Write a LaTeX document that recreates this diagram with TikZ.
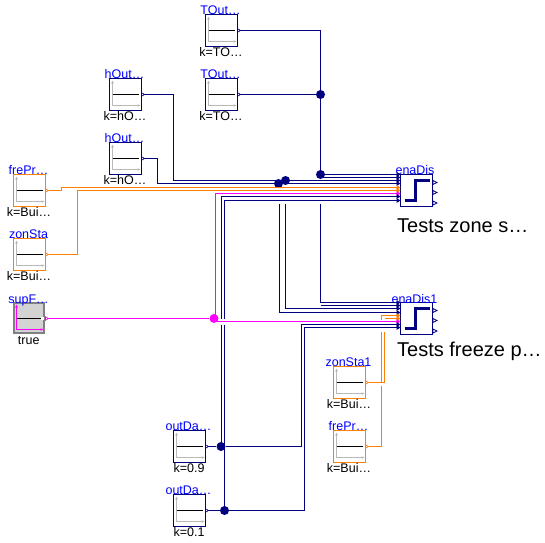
\documentclass[tikz,border=0pt]{standalone}
\usepackage{fontspec}
\setmainfont{Liberation Sans}
\usetikzlibrary{positioning}
\definecolor{conNavy}{RGB}{0,0,128}
\definecolor{conOrange}{RGB}{255,128,0}
\definecolor{conPink}{RGB}{255,0,255}
\definecolor{axisGrey}{RGB}{185,185,185}
\definecolor{supGrey}{RGB}{211,211,211}
\tikzstyle{srcbox}=[rectangle,draw,fill=white,line width=1pt,inner sep=0pt,outer sep=0pt,minimum size=32pt]
\tikzstyle{namelabel}=[inner sep=0pt,text=blue,font=\fontsize{12.5}{13}\selectfont,text height=9pt,text depth=1pt]
\tikzstyle{paramlabel}=[inner sep=0pt,font=\fontsize{12.5}{13}\selectfont,text height=9pt,text depth=1pt]
\tikzstyle{testlabel}=[inner sep=0pt,anchor=west,font=\fontsize{20}{22}\selectfont]
\tikzstyle{junction}=[circle,inner sep=0pt,minimum size=9pt]
\tikzstyle{con}=[line width=1pt]
% source block: name, x, y, colour, top text, bottom text
\newcommand{\srcblock}[6]{
\node[srcbox,draw=#4] (#1) at (#2,#3) {};
\draw[axisGrey,line width=0.8pt] (#2-13,#3-13) -- (#2-13,#3+11) -- (#2+13,#3+11);
\fill[axisGrey] (#2-14.3,#3-11) -- (#2-13,#3-14) -- (#2-11.7,#3-11) -- cycle;
\fill[axisGrey] (#2+12,#3+9.7) -- (#2+15,#3+11) -- (#2+12,#3+12.3) -- cycle;
\draw[black,line width=1pt] (#2-13,#3) -- (#2+13,#3);
\draw[#4,fill=white,line width=0.7pt] (#2+16,#3-1.8) -- (#2+19,#3) -- (#2+16,#3+1.8) -- cycle;
\coordinate (#1-out) at (#2+19,#3);
\node[namelabel] (#1-name) at (#2-1,#3-20.5) {#5};
\node[paramlabel] (#1-par) at (#2-.5,#3+22) {#6};
}
\begin{document}
\begin{tikzpicture}[x=1pt,y=-1pt,shift={(0.5,0.5)}]
\useasboundingbox (-0.5,-0.5) rectangle (544.5,541.5);
\srcblock{TOutA}{221}{30}{conNavy}{TOut…}{k=TO…}
\srcblock{TOutB}{221}{94}{conNavy}{TOut…}{k=TO…}
\srcblock{hOutA}{125}{94}{conNavy}{hOut…}{k=hO…}
\srcblock{hOutB}{125}{158}{conNavy}{hOut…}{k=hO…}
\srcblock{frePrA}{29}{190}{conOrange}{frePr…}{k=Bui…}
\srcblock{zonStaA}{29}{254}{conOrange}{zonSta}{k=Bui…}
\srcblock{outDaA}{189}{446}{conNavy}{outDa…}{k=0.9}
\srcblock{outDaB}{189}{510}{conNavy}{outDa…}{k=0.1}
\srcblock{zonStaB}{349}{382}{conOrange}{zonSta1}{k=Bui…}
\srcblock{frePrB}{349}{446}{conOrange}{frePr…}{k=Bui…}
\node[srcbox,draw=gray,line width=1.6pt,fill=supGrey,minimum size=30pt] (supF) at (28.5,317.5) {};
\draw[conPink,line width=1pt] (16,305) -- (16,329) -- (42,329);
\fill[conPink] (14.7,307) -- (16,304) -- (17.3,307) -- cycle;
\fill[conPink] (40,327.7) -- (43,329) -- (40,330.3) -- cycle;
\draw[black,line width=1pt] (16,318) -- (40,318);
\fill[white] (40,316.5) rectangle (43,319.5);
\draw[conPink,fill=white,line width=0.7pt] (45,316.2) -- (48,318) -- (45,319.8) -- cycle;
\coordinate (supF-out) at (48,318);
\node[namelabel] (supF-name) at (28,298.5) {supF…};
\node[paramlabel] (supF-par) at (28.2,339.5) {true};
\node[srcbox,draw=conNavy] (enaDis) at (416,190) {};
\node[srcbox,draw=conNavy] (enaDisOne) at (416,318) {};
\foreach \blk/\yy in {enaDis/190,enaDisOne/318}{
\draw[conNavy,line width=2.2pt] (404,\yy+10) -- (415,\yy+10) -- (415,\yy-10) -- (429,\yy-10);
\foreach \off in {-8,2,12.5}
\draw[conNavy,fill=white,line width=0.7pt] (432.5,\yy+\off-2) -- (436.5,\yy+\off) -- (432.5,\yy+\off+2) -- cycle;
}
\node[namelabel] (enaDis-name) at (414.5,170) {enaDis};
\node[namelabel] (enaDisOne-name) at (414,299) {enaDis1};
\node[testlabel] (enaDis-test) at (396.5,225.5) {Tests zone s…};
\node[testlabel] (enaDisOne-test) at (396.5,350.5) {Tests freeze p…};
\foreach \i/\yy/\cc in {1/174/conNavy,2/177/conNavy,3/180/conNavy,4/183/conNavy,5/187/conOrange,6/190/conOrange,7/193/conPink,8/196/conNavy,9/200/conNavy}{
\coordinate (enaDis-\i) at (396,\yy);
\fill[\cc] (396,\yy-2.5) -- (400,\yy) -- (396,\yy+2.5) -- cycle;
}
\foreach \i/\yy/\cc in {1/302/conNavy,2/305/conNavy,3/308/conNavy,4/312/conNavy,5/315/conOrange,6/318/conOrange,7/321/conPink,8/324/conNavy,9/327/conNavy}{
\coordinate (enaDisOne-\i) at (396,\yy);
\fill[\cc] (396,\yy-2.5) -- (400,\yy) -- (396,\yy+2.5) -- cycle;
}
\node[junction,fill=conNavy] (dotTop) at (320,94) {};
\node[junction,fill=conNavy] (dotBus) at (320,174) {};
\node[junction,fill=conNavy] (dotHOutA) at (285,180) {};
\node[junction,fill=conNavy] (dotHOutB) at (278,183) {};
\node[junction,fill=conPink] (dotSup) at (213.5,318) {};
\node[junction,fill=conNavy] (dotDaA) at (220.5,446) {};
\node[junction,fill=conNavy] (dotDaB) at (224,510) {};
\coordinate (gapBus) at (320,203);
\coordinate (gapBusB) at (320,305);
\coordinate (gapHOutA) at (285,203);
\coordinate (gapHOutB) at (279,203);
\coordinate (supBranch) at (215,318);
\coordinate (frePrStub) at (384,318);
\draw[con,conNavy] (TOutA-out) -| (dotBus);
\draw[con,conNavy] (TOutB-out) -- (dotTop);
\draw[con,conNavy] (dotBus) -- (enaDis-1);
\draw[con,conNavy] (dotBus) |- (enaDis-2);
\draw[con,conNavy] (hOutA-out) -- ++(29,0) |- (enaDis-3);
\draw[con,conNavy] (hOutB-out) -- ++(13,0) |- (enaDis-4);
\draw[con,conNavy] (gapBus) |- (enaDisOne-1);
\draw[con,conNavy] (gapBusB) -- (enaDisOne-2);
\draw[con,conNavy] (gapHOutA) |- (enaDisOne-3);
\draw[con,conNavy] (gapHOutB) |- (enaDisOne-4);
\draw[con,conOrange] (frePrA-out) -- ++(13,0) -- ++(0,-3) -- (enaDis-5);
\draw[con,conOrange] (zonStaA-out) -- ++(29,0) |- (enaDis-6);
\draw[con,conPink] (supF-out) -- (dotSup);
\draw[con,conPink] (supBranch) |- (enaDis-7);
\draw[con,conPink] (supBranch) |- (enaDisOne-7);
\draw[con,conNavy] (outDaA-out) -- (dotDaA);
\draw[con,conNavy] (outDaB-out) -- (dotDaB);
\draw[con,conNavy] (dotDaA) -- (301,446) |- (enaDisOne-8);
\draw[con,conNavy] (dotDaB) -- (304,510) |- (enaDisOne-9);
\draw[con,conNavy] (221,446) -- (221,324) (221,318) |- (enaDis-8);
\draw[con,conNavy] (224,510) -- (224,324) (224,318) |- (enaDis-9);
\draw[con,conOrange] (zonStaB-out) -| (384,331);
\draw[con,conOrange] (frePrStub) -- (enaDisOne-6);
\draw[con,conOrange] (frePrB-out) -| (381,385.5) (381,382) -- (381,331) (381,319) |- (enaDisOne-5);
\end{tikzpicture}
\end{document}
